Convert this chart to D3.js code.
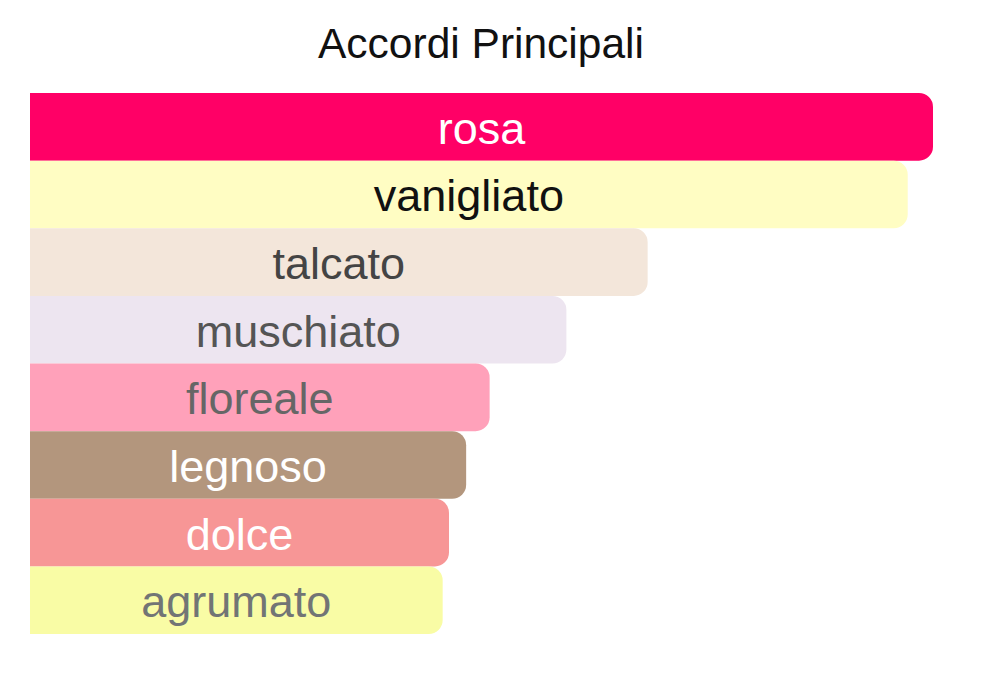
<!DOCTYPE html>
<html>
<head>
<meta charset="utf-8">
<script src="https://cdn.jsdelivr.net/npm/d3@7"></script>
<style>
  html, body { margin: 0; padding: 0; background: #fff; }
  svg { display: block; font-family: "Liberation Sans", Arial, Helvetica, sans-serif; }
</style>
</head>
<body>
<div id="chart"></div>
<script>
// dati: accordi principali (valori in % rispetto al primo)
const accordi = ["rosa", "vanigliato", "talcato", "muschiato", "floreale", "legnoso", "dolce", "agrumato"];
const valori = [100, 97.2, 68.4, 59.4, 50.9, 48.3, 46.4, 45.7];
const titolo = "Accordi Principali";

// colori barre e testo
const coloriBarre = ["#ff0066", "#fffdc3", "#f3e6da", "#ede5f0", "#ffa1ba", "#b3967d", "#f79696", "#f9fca5"];
const coloriTesto = ["#ffffff", "#111111", "#444444", "#555555", "#666666", "#ffffff", "#ffffff", "#727575"];

const width = 1004, height = 680;
const svg = d3.select("#chart").append("svg")
    .attr("width", width)
    .attr("height", height);

const x = d3.scaleLinear().domain([0, 100]).range([30, 933]);
const y = d3.scaleBand().domain(accordi).range([93, 634]).padding(0);

svg.append("text")
    .attr("x", 481)
    .attr("y", 58)
    .attr("text-anchor", "middle")
    .attr("font-size", 42.5)
    .attr("fill", "#111")
    .text(titolo);

// barra con angoli arrotondati solo a destra
function barPath(x0, y0, w, h, r) {
    r = Math.min(r, w, h / 2);
    return `M${x0},${y0}H${x0 + w - r}A${r},${r} 0 0 1 ${x0 + w},${y0 + r}` +
           `V${y0 + h - r}A${r},${r} 0 0 1 ${x0 + w - r},${y0 + h}H${x0}Z`;
}

const dati = accordi.map((a, i) => ({ nome: a, valore: valori[i], i }));

const g = svg.selectAll("g.bar")
    .data(dati)
    .enter()
    .append("g")
    .attr("class", "bar");

g.append("path")
    .attr("d", d => barPath(x(0), y(d.nome), x(d.valore) - x(0), y.bandwidth(), 14))
    .attr("fill", d => coloriBarre[d.i]);

g.append("text")
    .attr("x", d => (x(0) + x(d.valore)) / 2)
    .attr("y", d => y(d.nome) + y.bandwidth() / 2 + 17)
    .attr("text-anchor", "middle")
    .attr("font-size", 45)
    .attr("fill", d => coloriTesto[d.i])
    .text(d => d.nome);
</script>
</body>
</html>
